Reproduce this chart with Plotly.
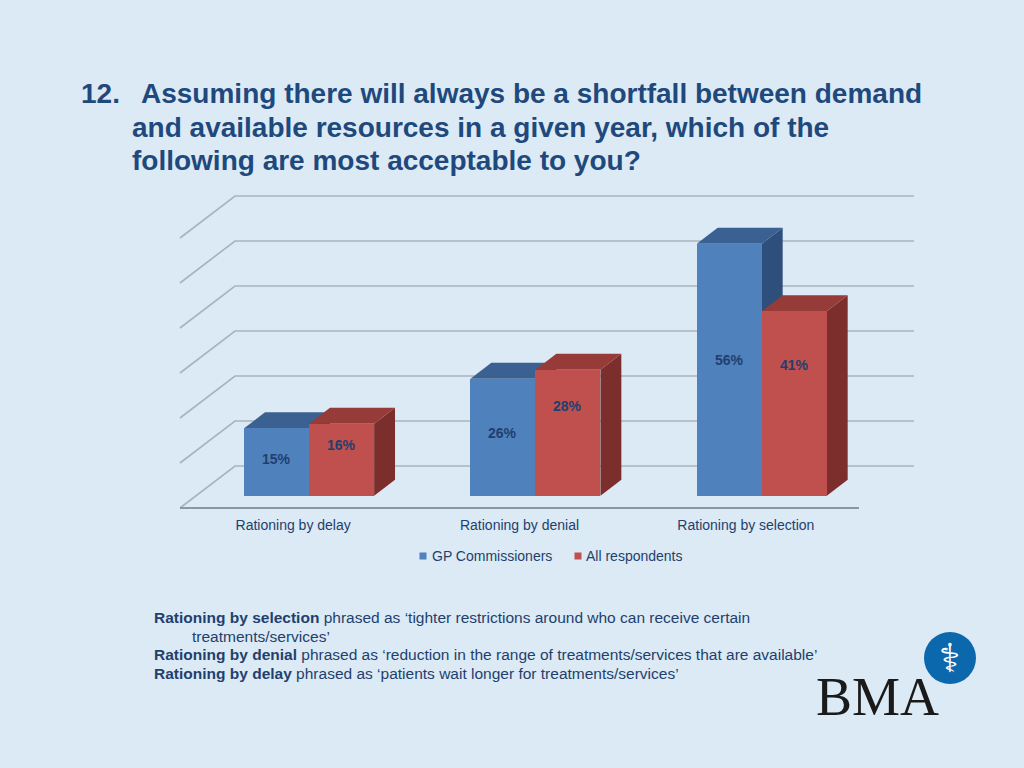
import plotly.graph_objects as go

# ---------------- data ----------------
categories = ["Rationing by delay", "Rationing by denial", "Rationing by selection"]
series_names = ["GP Commissioners", "All respondents"]
gp_commissioners = [15, 26, 56]
all_respondents = [16, 28, 41]
grid_ticks = [0, 10, 20, 30, 40, 50, 60]

title_lines = [
    "Assuming there will always be a shortfall between demand",
    "and available resources in a given year, which of the",
    "following are most acceptable to you?",
]
title_number = "12."
notes = [
    ("Rationing by selection", " phrased as \u2018tighter restrictions around who can receive certain"),
    ("", "treatments/services\u2019"),
    ("Rationing by denial", " phrased as \u2018reduction in the range of treatments/services that are available\u2019"),
    ("Rationing by delay", " phrased as \u2018patients wait longer for treatments/services\u2019"),
]

# ---------------- styling / geometry ----------------
W, H = 1024, 768
BG = "#DBEAF4"
NAVY = "#1F3F6E"
TITLE_C = "#1F497D"
FRONT = ["#4F81BD", "#C0504D"]
TOP = ["#3A6192", "#973B38"]
SIDE = ["#2E4F7C", "#7B2E2C"]
GRID_C = "#AAB4BC"
FLOOR_C = "#8E979E"

UNIT_PX = 226.33          # pixels per category unit
X_LEFT_PX = 180.0         # screen x of category -0.5 on front plane
PX_PER_PCT = 4.5          # pixels per percentage point
Y0_PX = 508.0             # screen y of 0 % on front plane
DEPTH_PX = (55.0, 42.0)   # oblique depth vector (right, up) in pixels
Z_FRONT, Z_BACK = 0.29, 0.67
BAR_W = 65.0 / UNIT_PX
LABEL_K = [0.54, 0.71]

xmin = -0.5 - X_LEFT_PX / UNIT_PX
xmax = xmin + W / UNIT_PX
ymin = -(H - Y0_PX) / PX_PER_PCT
ymax = ymin + H / PX_PER_PCT
DX = DEPTH_PX[0] / UNIT_PX
DV = DEPTH_PX[1] / PX_PER_PCT


def px(xp, yp):
    return xp / W, 1 - yp / H


def path(points, close=True):
    s = "M " + " L ".join(f"{x:.4f},{y:.4f}" for x, y in points)
    return s + (" Z" if close else "")


n = len(categories)
fig = go.Figure()
shapes = []

# back wall + left wall gridlines
for t in grid_ticks:
    pts = [(-0.5, t), (-0.5 + DX, t + DV), (n - 0.5 + DX, t + DV)]
    shapes.append(dict(type="path", xref="x", yref="y", path=path(pts, close=False),
                       line=dict(color=GRID_C, width=1.7), layer="below"))
# floor front edge
shapes.append(dict(type="line", xref="x", yref="y", x0=-0.5, x1=n - 0.5, y0=0, y1=0,
                   line=dict(color=FLOOR_C, width=2), layer="below"))

series = [gp_commissioners, all_respondents]
dd = Z_BACK - Z_FRONT
base = Z_FRONT * DV
annotations = []

for s, vals in enumerate(series):
    xs = [i + Z_FRONT * DX + (s - 0.5) * BAR_W for i in range(n)]
    fig.add_trace(go.Bar(
        x=xs, y=vals, base=base, width=BAR_W, name=series_names[s],
        marker=dict(color=FRONT[s], line=dict(width=0)), showlegend=False,
        hoverinfo="skip"))
    for xc, v in zip(xs, vals):
        x0, x1 = xc - BAR_W / 2, xc + BAR_W / 2
        top = base + v
        side = [(x1, base), (x1, top), (x1 + dd * DX, top + dd * DV), (x1 + dd * DX, base + dd * DV)]
        topf = [(x0, top), (x1, top), (x1 + dd * DX, top + dd * DV), (x0 + dd * DX, top + dd * DV)]
        shapes.append(dict(type="path", xref="x", yref="y", path=path(side),
                           fillcolor=SIDE[s], line=dict(width=0), layer="below"))
        shapes.append(dict(type="path", xref="x", yref="y", path=path(topf),
                           fillcolor=TOP[s], line=dict(width=0), layer="below"))
        annotations.append(dict(x=xc, y=base + v * LABEL_K[s], xref="x", yref="y",
                                text=f"<b>{v}%</b>", showarrow=False,
                                font=dict(size=14, color=NAVY, family="Liberation Sans")))

# title
TITLE_SIZE = 28
tx, ty = px(79, 93)
annotations.append(dict(x=tx, y=ty, xref="paper", yref="paper", xanchor="left", yanchor="middle",
                        text=f"<b>{title_number}</b>", showarrow=False,
                        font=dict(size=TITLE_SIZE, color=TITLE_C, family="Liberation Sans")))
for k, (line, yp) in enumerate(zip(title_lines, [93, 127, 160])):
    xp = 139 if k == 0 else 130
    tx, ty = px(xp, yp)
    annotations.append(dict(x=tx, y=ty, xref="paper", yref="paper", xanchor="left", yanchor="middle",
                            text=f"<b>{line}</b>", showarrow=False,
                            font=dict(size=TITLE_SIZE, color=TITLE_C, family="Liberation Sans")))

# legend (drawn manually to match compact style)
leg = [(423, 430), (578, 584)]
for s, (sq, txp) in enumerate(leg):
    a, b = px(sq - 3.5, 552.5)
    c, d = px(sq + 3.5, 559.5)
    shapes.append(dict(type="rect", xref="paper", yref="paper", x0=a, x1=c, y0=d, y1=b,
                       fillcolor=FRONT[s], line=dict(width=0)))
    lx, ly = px(txp, 556)
    annotations.append(dict(x=lx, y=ly, xref="paper", yref="paper", xanchor="left", yanchor="middle",
                            text=series_names[s], showarrow=False,
                            font=dict(size=14, color=NAVY, family="Liberation Sans")))

# notes
for (bold, rest), yp, xp in zip(notes, [617, 636, 654, 673], [152, 190, 152, 152]):
    lx, ly = px(xp, yp)
    txt = (f"<b>{bold}</b>" if bold else "") + rest
    annotations.append(dict(x=lx, y=ly, xref="paper", yref="paper", xanchor="left", yanchor="middle",
                            text=txt, showarrow=False,
                            font=dict(size=15.5, color=NAVY, family="Liberation Sans")))

# BMA logo
lx, ly = px(877, 697)
annotations.append(dict(x=lx, y=ly, xref="paper", yref="paper", xanchor="center", yanchor="middle",
                        text="BMA", showarrow=False,
                        font=dict(size=54, color="#1A1A1A", family="Liberation Serif")))
a, b = px(950 - 26, 658 - 26)
c, d = px(950 + 26, 658 + 26)
shapes.append(dict(type="circle", xref="paper", yref="paper", x0=a, x1=c, y0=d, y1=b,
                   fillcolor="#0C68AC", line=dict(width=0)))
lx, ly = px(950, 658)
annotations.append(dict(x=lx, y=ly, xref="paper", yref="paper", xanchor="center", yanchor="middle",
                        text="\u2695", showarrow=False,
                        font=dict(size=40, color="white", family="DejaVu Sans")))

fig.update_layout(
    width=W, height=H, margin=dict(l=0, r=0, t=0, b=0),
    paper_bgcolor=BG, plot_bgcolor=BG, barmode="overlay", bargap=0,
    shapes=shapes, annotations=annotations, showlegend=False,
    xaxis=dict(range=[xmin, xmax], domain=[0, 1], showgrid=False, zeroline=False,
               showline=False, anchor="free", position=1 - Y0_PX / H,
               tickmode="array", tickvals=list(range(n)), ticktext=categories,
               ticks="outside", ticklen=4, tickcolor="rgba(0,0,0,0)",
               tickfont=dict(size=14, color=NAVY, family="Liberation Sans"), fixedrange=True),
    yaxis=dict(range=[ymin, ymax], domain=[0, 1], visible=False, fixedrange=True),
)

fig.write_html(
    "out.html",
    config={"displayModeBar": False},
    post_script="document.body.style.margin='0';document.body.style.background='" + BG + "';",
)
